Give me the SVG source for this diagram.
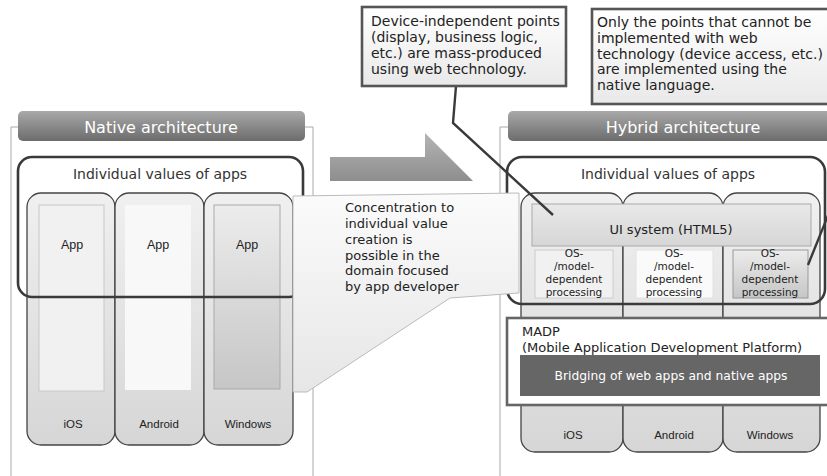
<svg xmlns="http://www.w3.org/2000/svg" width="827" height="476" viewBox="0 0 827 476">
<defs>
<linearGradient id="gHead" x1="0" y1="0" x2="0" y2="1"><stop offset="0" stop-color="#a9a9a9"/><stop offset="1" stop-color="#6c6c6c"/></linearGradient>
<linearGradient id="gPhone" x1="0" y1="0" x2="0" y2="1"><stop offset="0" stop-color="#f0f0f0"/><stop offset="1" stop-color="#d6d6d6"/></linearGradient>
<linearGradient id="gWin" x1="0" y1="0" x2="0" y2="1"><stop offset="0" stop-color="#ececec"/><stop offset="1" stop-color="#c6c6c6"/></linearGradient>
<linearGradient id="gArrow" x1="0" y1="0" x2="0" y2="1"><stop offset="0" stop-color="#b4b4b4"/><stop offset="1" stop-color="#8e8e8e"/></linearGradient>
<linearGradient id="gCall" x1="0" y1="0" x2="0" y2="1"><stop offset="0" stop-color="#fbfbfb"/><stop offset="1" stop-color="#e6e6e6"/></linearGradient>
<linearGradient id="gBox" x1="0" y1="0" x2="0" y2="1"><stop offset="0" stop-color="#ffffff"/><stop offset="1" stop-color="#e9e9e9"/></linearGradient>
<linearGradient id="gUI" x1="0" y1="0" x2="0" y2="1"><stop offset="0" stop-color="#e9e9e9"/><stop offset="1" stop-color="#d6d6d6"/></linearGradient>
</defs>
<style>
text{font-family:"DejaVu Sans",Verdana,sans-serif;fill:#222}
.head{font-size:16px;fill:#fff;text-anchor:middle}
.iv{font-size:14px;fill:#333;text-anchor:middle}
.lab{font-family:"Liberation Sans",Arial,sans-serif;font-size:11.5px;text-anchor:middle;fill:#222}
.app{font-size:12.5px}
.os{font-size:10.5px;text-anchor:middle;fill:#222}
.note{font-size:14px;fill:#222}
.conc{font-size:13px;fill:#222}
.frame{fill:none;stroke:#aaa;stroke-width:1}
.phone{fill:url(#gPhone);stroke:#444;stroke-width:1.3}
.ivbox{fill:none;stroke:#3a3a3a;stroke-width:2.6}
.callbox{fill:url(#gBox);stroke:#555;stroke-width:2.6}
.ptr{fill:none;stroke:#3a3a3a;stroke-width:2.4}
</style>

<g id="native-frame">
<polyline class="frame" points="11,476 11,127 18,127"/>
<polyline class="frame" points="305,127 313,127 313,476"/>
</g>
<g id="hybrid-frame">
<polyline class="frame" points="500,476 500,127 508,127"/>
</g>

<g id="native-header">
<rect x="18" y="111" width="287" height="30" rx="5" fill="url(#gHead)"/>
<text class="head" x="161" y="132.5">Native architecture</text>
</g>

<g id="native-ios">
<rect class="phone" x="27" y="193" width="88" height="252" rx="14"/>
<rect x="39" y="205" width="65" height="186" fill="#f1f1f1" stroke="#c8c8c8"/>
<text class="lab app" x="72" y="249">App</text>
<text class="lab" x="73" y="428">iOS</text>
</g>
<g id="native-android">
<rect class="phone" x="115" y="193" width="89" height="252" rx="14"/>
<rect x="125" y="205" width="66" height="185" fill="#f8f8f8"/>
<text class="lab app" x="158" y="249">App</text>
<text class="lab" x="159" y="428">Android</text>
</g>
<g id="native-windows">
<rect class="phone" x="204" y="193" width="89" height="252" rx="14"/>
<rect x="214" y="205" width="66" height="184" fill="url(#gWin)" stroke="#aaa"/>
<text class="lab app" x="247" y="249">App</text>
<text class="lab" x="248" y="428">Windows</text>
</g>
<g id="native-values">
<rect class="ivbox" x="18" y="157" width="285" height="140" rx="14"/>
<text class="iv" x="160" y="179">Individual values of apps</text>
</g>

<g id="arrow">
<polygon points="330,157 425,157 425,133 473,181 330,181" fill="url(#gArrow)"/>
</g>

<g id="hybrid-header">
<rect x="508" y="111" width="352" height="30" rx="5" fill="url(#gHead)"/>
<text class="head" x="683" y="132.5">Hybrid architecture</text>
</g>

<g id="hybrid-ios">
<rect class="phone" x="521" y="193" width="102" height="259" rx="14"/>
<text class="lab" x="573" y="439">iOS</text>
</g>
<g id="hybrid-android">
<rect class="phone" x="623" y="193" width="100" height="259" rx="14"/>
<text class="lab" x="674" y="439">Android</text>
</g>
<g id="hybrid-windows">
<rect class="phone" x="723" y="193" width="97" height="259" rx="14"/>
<text class="lab" x="770" y="439">Windows</text>
</g>

<g id="ui-system">
<rect x="532" y="204" width="279" height="42" fill="url(#gUI)" stroke="#aaa"/>
<text x="671" y="234" style="font-size:13px;text-anchor:middle">UI system (HTML5)</text>
</g>
<g id="os-ios">
<rect x="535" y="250" width="78" height="48" fill="#f1f1f1" stroke="#ccc"/>
<text class="os" x="574" y="257">OS-</text>
<text class="os" x="574" y="270">/model-</text>
<text class="os" x="574" y="283">dependent</text>
<text class="os" x="574" y="295.5">processing</text>
</g>
<g id="os-android">
<rect x="636" y="250" width="77" height="48" fill="#fafafa" stroke="#e2e2e2"/>
<text class="os" x="674" y="257">OS-</text>
<text class="os" x="674" y="270">/model-</text>
<text class="os" x="674" y="283">dependent</text>
<text class="os" x="674" y="295.5">processing</text>
</g>
<g id="os-windows">
<rect x="733" y="250" width="75" height="48" fill="url(#gWin)" stroke="#999"/>
<text class="os" x="770" y="257">OS-</text>
<text class="os" x="770" y="270">/model-</text>
<text class="os" x="770" y="283">dependent</text>
<text class="os" x="770" y="295.5">processing</text>
</g>

<g id="hybrid-values">
<rect class="ivbox" x="507" y="157" width="318" height="147" rx="15"/>
<text class="iv" x="668" y="179">Individual values of apps</text>
</g>

<g id="madp">
<rect x="507" y="318" width="360" height="87" fill="#fff" stroke="#666" stroke-width="2.6"/>
<text x="522" y="336" style="font-size:13px">MADP</text>
<text x="522" y="352" style="font-size:13px">(Mobile Application Development Platform)</text>
<rect x="520" y="355" width="300" height="41" fill="#666"/>
<text x="671" y="380" style="font-size:12.3px;fill:#fff;text-anchor:middle">Bridging of web apps and native apps</text>
</g>

<g id="concentration-callout">
<polygon points="293,196 519,193 519,293 450,298 307,392 293,392" fill="url(#gCall)" stroke="#bbb" stroke-width="1"/>
<text class="conc" x="345" y="212">Concentration to</text>
<text class="conc" x="345" y="228">individual value</text>
<text class="conc" x="345" y="244">creation is</text>
<text class="conc" x="345" y="259.5">possible in the</text>
<text class="conc" x="345" y="275">domain focused</text>
<text class="conc" x="345" y="291">by app developer</text>
</g>

<g id="connectors">
<polyline class="ptr" points="456,86 453,123 553,215"/>
<polyline class="ptr" points="833,203 808,265"/>
</g>

<g id="note-web">
<rect class="callbox" x="362" y="7" width="204" height="79"/>
<text class="note" x="371" y="26">Device-independent points</text>
<text class="note" x="371" y="42">(display, business logic,</text>
<text class="note" x="371" y="58">etc.) are mass-produced</text>
<text class="note" x="371" y="74">using web technology.</text>
</g>
<g id="note-native">
<rect class="callbox" x="592" y="9" width="300" height="95"/>
<text class="note" x="597" y="27">Only the points that cannot be</text>
<text class="note" x="597" y="43">implemented with web</text>
<text class="note" x="597" y="58.5">technology (device access, etc.)</text>
<text class="note" x="597" y="74">are implemented using the</text>
<text class="note" x="597" y="89.5">native language.</text>
</g>
</svg>
